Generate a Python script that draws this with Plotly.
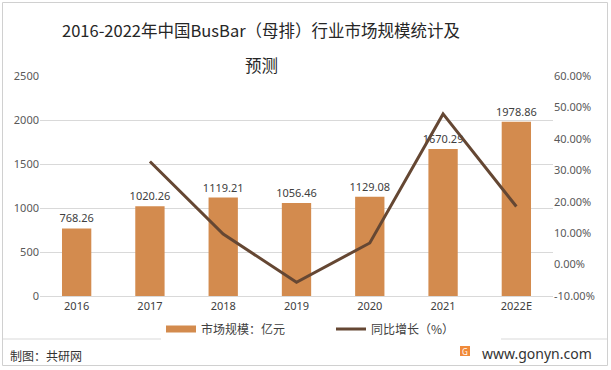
import plotly.graph_objects as go

years = ["2016", "2017", "2018", "2019", "2020", "2021", "2022E"]
market_size = [768.26, 1020.26, 1119.21, 1056.46, 1129.08, 1670.29, 1978.86]
growth_years = ["2017", "2018", "2019", "2020", "2021", "2022E"]
growth_pct = [32.81, 9.70, -5.61, 6.87, 47.93, 18.47]

left_ticks = [0, 500, 1000, 1500, 2000, 2500]
right_ticks = [-10, 0, 10, 20, 30, 40, 50, 60]
right_tick_text = [f"{v:.2f}%" for v in right_ticks]

BAR_COLOR = "#D38B4E"
LINE_COLOR = "#654733"
FONT = "Noto Sans, Noto Sans CJK SC, sans-serif"
CJK = "Noto Sans CJK SC, sans-serif"

W, H = 611, 370
L, R, T, B = 40, 58, 76, 74
PW, PH = W - L - R, H - T - B


def px(x):
    return (x - L) / PW


def py(y):
    return (H - B - y) / PH


fig = go.Figure()
fig.add_trace(go.Bar(
    x=years, y=market_size, name="市场规模：亿元", showlegend=False,
    marker=dict(color=BAR_COLOR, line=dict(width=0)),
    text=[f"{v:.2f}" for v in market_size], textposition="outside",
    constraintext="none",
    textfont=dict(size=11, color="#404040", family=FONT),
    cliponaxis=False,
))
# legend swatch for the bars (wide rectangle, as in the reference)
fig.add_trace(go.Scatter(
    x=[None], y=[None], name="市场规模：亿元", mode="lines",
    line=dict(color=BAR_COLOR, width=7), showlegend=True,
))
fig.add_trace(go.Scatter(
    x=growth_years, y=growth_pct, name="同比增长（%）", yaxis="y2",
    mode="lines", line=dict(color=LINE_COLOR, width=3),
))

fig.update_layout(
    width=W, height=H,
    margin=dict(l=L, r=R, t=T, b=B, autoexpand=False),
    paper_bgcolor="white", plot_bgcolor="white",
    bargap=0.6,
    font=dict(family=FONT, size=11, color="#595959"),
    xaxis=dict(
        type="category", categoryorder="array", categoryarray=years,
        showgrid=False, showline=True, linecolor="#D9D9D9", linewidth=1,
        ticks="", tickfont=dict(size=11, color="#404040"), automargin=False,
    ),
    yaxis=dict(
        range=[0, 2500], tickvals=left_ticks, showgrid=True,
        gridcolor="#D9D9D9", gridwidth=1, zeroline=False, showline=False,
        tickfont=dict(size=11, color="#595959"), automargin=False,
    ),
    yaxis2=dict(
        overlaying="y", side="right", range=[-10, 60],
        tickvals=right_ticks, ticktext=right_tick_text, showgrid=False,
        zeroline=False, showline=False, automargin=False,
        tickfont=dict(size=11, color="#595959"),
    ),
    legend=dict(
        orientation="h", xref="container", yref="container",
        x=161 / W, xanchor="left", y=1 - 329 / H, yanchor="middle",
        font=dict(size=12, color="#404040", family=CJK),
        itemwidth=30, traceorder="normal", entrywidth=125,
    ),
    showlegend=True,
)

# title as two separately placed lines
fig.add_annotation(text="2016-2022年中国BusBar（母排）行业市场规模统计及",
                   xref="paper", yref="paper", x=px(261), y=py(30),
                   xanchor="center", yanchor="middle", showarrow=False,
                   font=dict(size=16.5, color="#262626", family=CJK))
fig.add_annotation(text="预测",
                   xref="paper", yref="paper", x=px(261), y=py(65),
                   xanchor="center", yanchor="middle", showarrow=False,
                   font=dict(size=16.5, color="#262626", family=CJK))

# footer separator, border, and footer text
fig.add_shape(type="line", xref="paper", yref="paper", x0=px(3), x1=px(607),
              y0=py(339), y1=py(339), line=dict(color="#D9D9D9", width=1))
fig.add_shape(type="rect", xref="paper", yref="paper",
              x0=px(2.5), x1=px(607.5), y0=py(365.5), y1=py(2.5),
              line=dict(color="#D0D0D0", width=1))
fig.add_annotation(text="制图：共研网", xref="paper", yref="paper",
                   x=px(8), y=py(355), xanchor="left", yanchor="middle",
                   showarrow=False,
                   font=dict(size=12, color="#333333", family=CJK))
fig.add_annotation(text="www.gonyn.com", xref="paper", yref="paper",
                   x=px(594), y=py(353), xanchor="right", yanchor="middle",
                   showarrow=False,
                   font=dict(size=14, color="#333333", family="Noto Sans, sans-serif"))
fig.add_shape(type="rect", xref="paper", yref="paper",
              x0=px(460), x1=px(470), y0=py(356), y1=py(346),
              fillcolor="#F08A3A", line=dict(width=0))
fig.add_annotation(text="G", xref="paper", yref="paper",
                   x=px(465), y=py(351), xanchor="center", yanchor="middle",
                   showarrow=False,
                   font=dict(size=8, color="white", family="Noto Sans, sans-serif"))

fig.write_html("out.html", config={"displayModeBar": False},
               post_script="document.body.style.margin='0';document.body.style.padding='0';")
